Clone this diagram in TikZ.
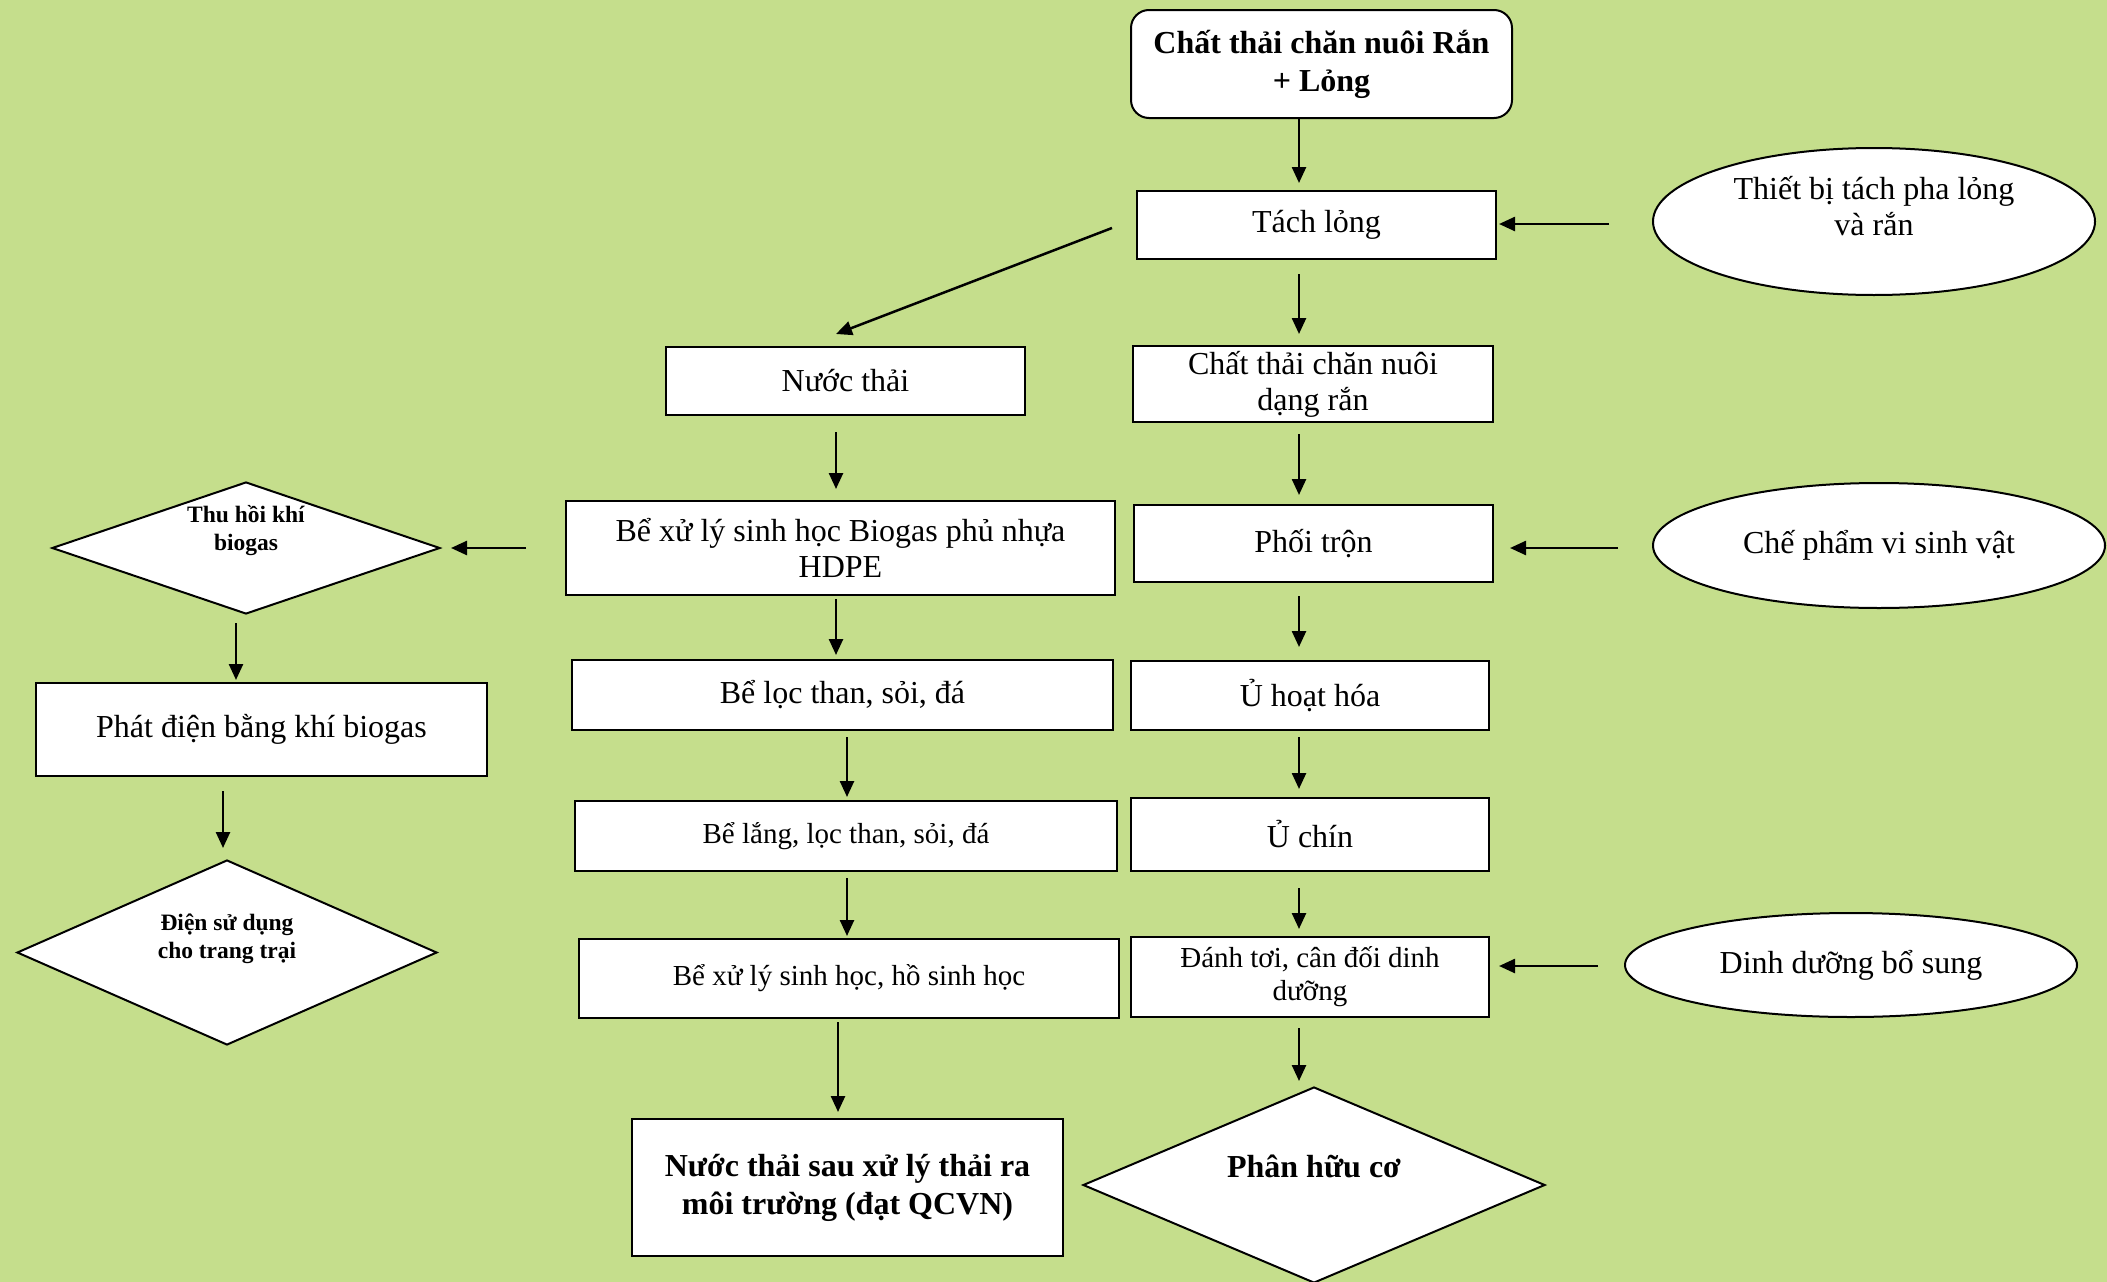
\documentclass[tikz,border=0pt]{standalone}
\usepackage{fontspec}
\setmainfont{Liberation Serif}
\usetikzlibrary{arrows.meta,shapes.geometric,calc}
\definecolor{bgc}{RGB}{197,222,140}
\tikzset{
  bx/.style={draw=black,fill=white,line width=2pt,inner sep=0pt,align=center,
    font=\fontsize{32}{36}\selectfont},
  sbx/.style={bx,font=\fontsize{29}{33}\selectfont},
  dia/.style={draw=black,fill=white,line width=2pt,diamond,inner sep=0pt},
  ell/.style={draw=black,fill=white,line width=2pt,ellipse,inner sep=0pt,align=center,
    font=\fontsize{32}{36}\selectfont},
  dtxt/.style={align=center,inner sep=0pt,font=\bfseries\fontsize{23.5}{28}\selectfont},
  arr/.style={line width=2.5pt,-{Triangle[length=16pt,width=14pt]}},
}
\begin{document}
\begin{tikzpicture}[x=1pt,y=-1pt]
\fill[bgc] (0,0) rectangle (2107,1282);
\useasboundingbox (0,0) rectangle (2107,1282);

% right column
\node[bx,rounded corners=18pt,minimum width=381pt,minimum height=108pt,
  font=\bfseries\fontsize{32}{38}\selectfont] (top) at (1321.5,64)
  {Chất thải chăn nuôi Rắn\\+ Lỏng};
\node[bx,minimum width=359pt,minimum height=68pt] (tach) at (1316.5,225) {Tách lỏng};
\node[bx,minimum width=360pt,minimum height=76pt] (ranr) at (1313,384) {Chất thải chăn nuôi\\dạng rắn};
\node[bx,minimum width=359pt,minimum height=77pt] (phoi) at (1313.5,543.5) {Phối trộn};
\node[bx,minimum width=358pt,minimum height=69pt] (uhh) at (1310,695.5) {Ủ hoạt hóa};
\node[bx,minimum width=358pt,minimum height=73pt] (uchin) at (1310,834.5) {Ủ chín};
\node[sbx,minimum width=358pt,minimum height=80pt] (danh) at (1310,977) {Đánh tơi, cân đối dinh\\dưỡng};
\node[dia,minimum width=462pt,minimum height=196pt] (phan) at (1314,1185) {};
\node[dtxt,font=\bfseries\fontsize{32}{38}\selectfont] (phant) at ($(phan.center)+(0,-19)$) {Phân hữu cơ};

% ellipses
\node[ell,minimum width=442pt,minimum height=147pt] (thiet) at (1874,221.5) {};
\node[align=center,inner sep=0pt,font=\fontsize{32}{36}\selectfont] (thiett) at ($(thiet.center)+(0,-15)$) {Thiết bị tách pha lỏng\\và rắn};
\node[ell,minimum width=452pt,minimum height=125pt] (che) at (1879,545.5) {Chế phẩm vi sinh vật};
\node[ell,minimum width=452pt,minimum height=104pt] (dinh) at (1851,965) {Dinh dưỡng bổ sung};

% left column
\node[bx,minimum width=359pt,minimum height=68pt] (nuoc) at (845.5,381) {Nước thải};
\node[bx,minimum width=549pt,minimum height=94pt] (biog) at (840.5,548) {Bể xử lý sinh học Biogas phủ nhựa\\HDPE};
\node[bx,minimum width=541pt,minimum height=70pt] (loc) at (842.5,695) {Bể lọc than, sỏi, đá};
\node[sbx,minimum width=542pt,minimum height=70pt] (lang) at (846,836) {Bể lắng, lọc than, sỏi, đá};
\node[sbx,minimum width=540pt,minimum height=79pt] (hsh) at (849,978.5) {Bể xử lý sinh học, hồ sinh học};
\node[bx,minimum width=431pt,minimum height=137pt,
  font=\bfseries\fontsize{32}{38}\selectfont] (sau) at (847.5,1187.5)
  {Nước thải sau xử lý thải ra\\môi trường (đạt QCVN)};

% far left
\node[dia,minimum width=388pt,minimum height=132pt] (thu) at (246,548) {};
\node[dtxt] (thut) at ($(thu.center)+(0,-17)$) {Thu hồi khí\\biogas};
\node[bx,minimum width=451pt,minimum height=93pt] (phat) at (261.5,729.5) {Phát điện bằng khí biogas};
\node[dia,minimum width=420pt,minimum height=185pt] (dien) at (227,952.5) {};
\node[dtxt] (dient) at ($(dien.center)+(0,-14)$) {Điện sử dụng\\cho trang trại};

% arrow x positions
\coordinate (cR) at (1299,0);
\coordinate (cL1) at (836,0);
\coordinate (cL2) at (847,0);
\coordinate (cL3) at (838,0);
\coordinate (cT) at (236,0);
\coordinate (cP) at (223,0);
\coordinate (rT) at (0,224);
\coordinate (rC) at (0,548);
\coordinate (rD) at (0,966);

% right column arrows
\draw[arr,shorten >=7pt] (top.south -| cR) -- (tach.north -| cR);
\draw[arr,shorten <=14pt,shorten >=11pt] (tach.south -| cR) -- (ranr.north -| cR);
\draw[arr,shorten <=11pt,shorten >=9pt] (ranr.south -| cR) -- (phoi.north -| cR);
\draw[arr,shorten <=13pt,shorten >=13pt] (phoi.south -| cR) -- (uhh.north -| cR);
\draw[arr,shorten <=6pt,shorten >=8pt] (uhh.south -| cR) -- (uchin.north -| cR);
\draw[arr,shorten <=16pt,shorten >=7pt] (uchin.south -| cR) -- (danh.north -| cR);
\draw[arr,shorten <=10pt,shorten >=5pt] (danh.south -| cR) -- (phan.north -| cR);

% side arrows
\draw[arr,shorten <=43pt,shorten >=2pt] (thiet.west |- rT) -- (tach.east |- rT);
\draw[arr,shorten <=34pt,shorten >=16pt] (che.west |- rC) -- (phoi.east |- rC);
\draw[arr,shorten <=26pt,shorten >=9pt] (dinh.west |- rD) -- (danh.east |- rD);

% diagonal
\draw[arr] ($(tach.west)+(-24,3)$) -- ($(nuoc.north -| cL1)+(0,-12)$);

% left column arrows
\draw[arr,shorten <=16pt,shorten >=11pt] (nuoc.south -| cL1) -- (biog.north -| cL1);
\draw[arr,shorten <=3pt,shorten >=4pt] (biog.south -| cL1) -- (loc.north -| cL1);
\draw[arr,shorten <=6pt,shorten >=3pt] (loc.south -| cL2) -- (lang.north -| cL2);
\draw[arr,shorten <=6pt,shorten >=2pt] (lang.south -| cL2) -- (hsh.north -| cL2);
\draw[arr,shorten <=3pt,shorten >=6pt] (hsh.south -| cL3) -- (sau.north -| cL3);

% far left arrows
\draw[arr,shorten <=39pt,shorten >=10pt] (biog.west |- rC) -- (thu.east |- rC);
\draw[arr,shorten <=8pt,shorten >=2pt] (thu.south -| cT) -- (phat.north -| cT);
\draw[arr,shorten <=14pt,shorten >=11pt] (phat.south -| cP) -- (dien.north -| cP);
\end{tikzpicture}
\end{document}
